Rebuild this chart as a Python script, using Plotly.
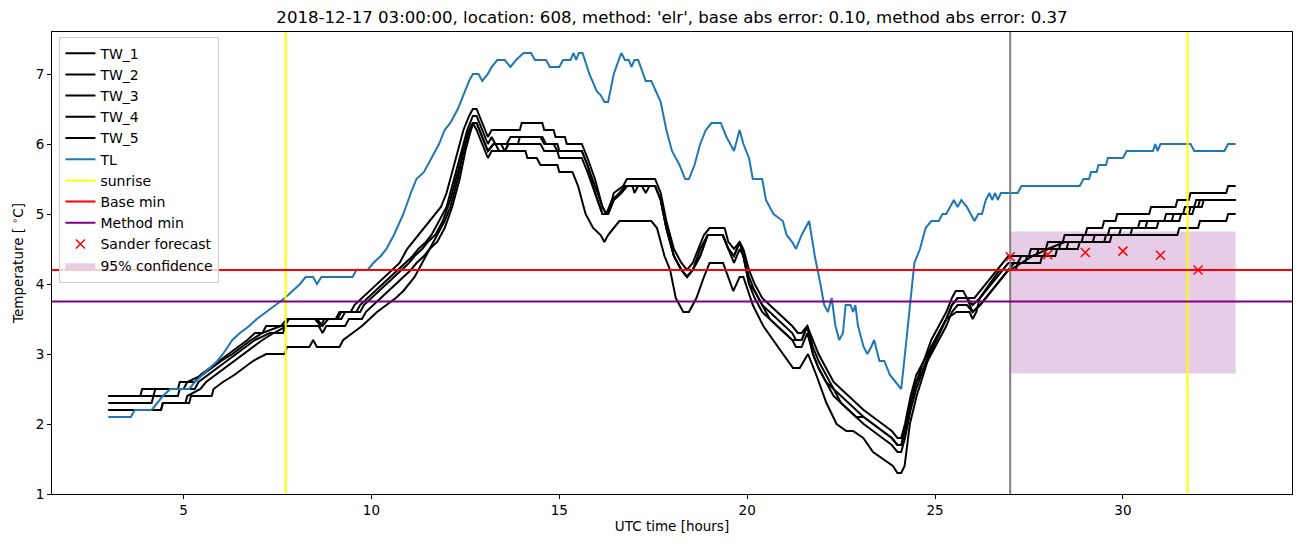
import plotly.graph_objects as go

# --- data ------------------------------------------------------------------
TITLE = ("2018-12-17 03:00:00, location: 608, method: 'elr', "
         "base abs error: 0.10, method abs error: 0.37")

# (UTC hour, temperature) pairs
TL = [(3.0, 2.1), (3.6, 2.1), (3.7, 2.2), (4.15, 2.2), (4.3, 2.3), (4.45, 2.4),
      (4.65, 2.5), (5.15, 2.5), (5.3, 2.6), (5.5, 2.7), (5.7, 2.8), (5.9, 2.9),
      (6.05, 3.0), (6.3, 3.2), (6.5, 3.3), (6.75, 3.4), (6.95, 3.5), (7.2, 3.6),
      (7.45, 3.7), (7.7, 3.8), (7.9, 3.9), (8.1, 4.0), (8.25, 4.1), (8.45, 4.1),
      (8.55, 4.0), (8.67, 4.1), (9.5, 4.1), (9.6, 4.2), (9.9, 4.2), (10.05, 4.3),
      (10.25, 4.4), (10.4, 4.5), (10.6, 4.7), (10.85, 5.0), (11.05, 5.3),
      (11.2, 5.5), (11.4, 5.6), (11.6, 5.8), (11.8, 6.0), (11.95, 6.2),
      (12.1, 6.3), (12.3, 6.5), (12.45, 6.7), (12.6, 6.9), (12.7, 7.0),
      (12.85, 7.0), (12.95, 6.9), (13.1, 7.0), (13.2, 7.1), (13.35, 7.2),
      (13.55, 7.2), (13.7, 7.1), (13.85, 7.2), (14.05, 7.3), (14.25, 7.3),
      (14.35, 7.2), (14.65, 7.2), (14.75, 7.1), (15.0, 7.1), (15.1, 7.2),
      (15.3, 7.2), (15.38, 7.3), (15.45, 7.2), (15.52, 7.3), (15.62, 7.3),
      (15.8, 7.0), (16.0, 6.75), (16.1, 6.7), (16.2, 6.6), (16.3, 6.6),
      (16.45, 7.0), (16.65, 7.3), (16.75, 7.2), (16.85, 7.2), (16.92, 7.1),
      (17.0, 7.2), (17.1, 7.2), (17.3, 6.9), (17.45, 6.9), (17.7, 6.6),
      (17.85, 6.2), (18.0, 5.9), (18.2, 5.7), (18.35, 5.5), (18.45, 5.5),
      (18.6, 5.7), (18.75, 6.0), (18.9, 6.2), (19.05, 6.3), (19.3, 6.3),
      (19.45, 6.1), (19.65, 5.9), (19.8, 6.2), (19.9, 6.0), (20.05, 5.8),
      (20.15, 5.5), (20.4, 5.5), (20.5, 5.2), (20.7, 5.0), (20.95, 4.9),
      (21.05, 4.7), (21.2, 4.6), (21.3, 4.5), (21.45, 4.7), (21.65, 4.9),
      (21.8, 4.4), (21.95, 4.0), (22.05, 3.7), (22.15, 3.6), (22.25, 3.8),
      (22.35, 3.4), (22.45, 3.2), (22.55, 3.3), (22.62, 3.7), (22.75, 3.7),
      (22.82, 3.6), (22.88, 3.7), (22.95, 3.4), (23.1, 3.1), (23.2, 3.0),
      (23.3, 3.1), (23.38, 3.2), (23.52, 2.9), (23.65, 2.9), (23.8, 2.7),
      (23.95, 2.6), (24.1, 2.5), (24.2, 3.0), (24.33, 3.7), (24.45, 4.3),
      (24.6, 4.5), (24.75, 4.8), (24.9, 4.9), (25.1, 4.9), (25.2, 5.0),
      (25.3, 5.0), (25.4, 5.1), (25.5, 5.2), (25.6, 5.1), (25.7, 5.2),
      (25.85, 5.1), (26.05, 4.9), (26.15, 5.0), (26.25, 5.0), (26.35, 5.2),
      (26.45, 5.3), (26.52, 5.2), (26.6, 5.3), (26.67, 5.2), (26.75, 5.3),
      (27.2, 5.3), (27.3, 5.4), (28.85, 5.4), (28.95, 5.5), (29.1, 5.5),
      (29.15, 5.6), (29.3, 5.6), (29.35, 5.7), (29.55, 5.7), (29.6, 5.8),
      (30.0, 5.8), (30.1, 5.9), (30.8, 5.9), (30.86, 6.0), (30.92, 5.9),
      (31.0, 6.0), (31.8, 6.0), (31.9, 5.9), (32.7, 5.9), (32.8, 6.0), (33.0, 6.0)]

TW_1 = [(3.0, 2.4), (3.85, 2.4), (3.9, 2.5), (4.85, 2.5), (4.9, 2.6), (5.3, 2.6),
        (5.45, 2.7), (5.7, 2.8), (5.95, 2.9), (6.2, 3.0), (6.45, 3.1), (6.7, 3.2),
        (6.9, 3.3), (7.1, 3.3), (7.2, 3.4), (7.7, 3.4), (7.75, 3.5), (9.05, 3.5),
        (9.15, 3.6), (9.45, 3.6), (9.55, 3.7), (9.75, 3.8), (9.95, 3.9),
        (10.15, 4.0), (10.35, 4.1), (10.55, 4.2), (10.75, 4.3), (10.95, 4.5),
        (11.1, 4.6), (11.25, 4.7), (11.4, 4.8), (11.55, 4.9), (11.7, 5.0),
        (11.85, 5.1), (12.0, 5.3), (12.15, 5.6), (12.3, 5.9), (12.45, 6.2),
        (12.6, 6.4), (12.7, 6.5), (12.8, 6.5), (12.95, 6.3), (13.1, 6.1),
        (13.2, 6.2), (13.95, 6.2), (14.0, 6.3), (14.55, 6.3), (14.6, 6.2),
        (14.85, 6.2), (14.9, 6.1), (15.15, 6.1), (15.2, 6.0), (15.6, 6.0),
        (15.75, 5.8), (15.95, 5.5), (16.15, 5.1), (16.25, 5.0), (16.35, 5.1),
        (16.45, 5.3), (16.7, 5.4), (16.8, 5.5), (17.55, 5.5), (17.7, 5.3),
        (17.85, 4.9), (18.05, 4.5), (18.25, 4.3), (18.4, 4.2), (18.55, 4.3),
        (18.7, 4.5), (18.85, 4.7), (19.0, 4.8), (19.4, 4.8), (19.5, 4.6),
        (19.65, 4.5), (19.8, 4.6), (19.9, 4.5), (20.05, 4.2), (20.2, 4.0),
        (20.4, 3.8), (20.6, 3.7), (20.8, 3.6), (21.0, 3.5), (21.2, 3.4),
        (21.35, 3.3), (21.45, 3.3), (21.6, 3.4), (21.75, 3.2), (21.9, 3.0),
        (22.1, 2.8), (22.3, 2.6), (22.5, 2.5), (22.7, 2.4), (22.9, 2.3),
        (23.1, 2.2), (23.35, 2.1), (23.6, 2.0), (23.85, 1.9), (24.0, 1.8),
        (24.1, 1.8), (24.2, 2.0), (24.35, 2.4), (24.5, 2.7), (24.7, 2.9),
        (24.9, 3.2), (25.1, 3.4), (25.3, 3.6), (25.45, 3.8), (25.55, 3.9),
        (25.75, 3.9), (25.85, 3.8), (26.05, 3.8), (26.2, 3.9), (26.35, 4.0),
        (26.5, 4.1), (26.65, 4.2), (26.8, 4.3), (26.95, 4.4), (27.5, 4.4),
        (27.55, 4.5), (27.95, 4.5), (28.0, 4.6), (28.4, 4.6), (28.45, 4.7),
        (29.0, 4.7), (29.05, 4.8), (29.45, 4.8), (29.5, 4.9), (29.8, 4.9),
        (29.85, 5.0), (30.7, 5.0), (30.75, 5.1), (31.4, 5.1), (31.45, 5.2),
        (31.75, 5.2), (31.8, 5.3), (32.75, 5.3), (32.8, 5.4), (33.0, 5.4)]

TW_2 = [(3.0, 2.4), (4.2, 2.4), (4.25, 2.5), (5.0, 2.5), (5.1, 2.6), (5.5, 2.7),
        (5.75, 2.8), (6.0, 2.9), (6.3, 3.0), (6.55, 3.1), (6.8, 3.2), (7.1, 3.3),
        (7.6, 3.4), (7.75, 3.5), (8.55, 3.5), (8.7, 3.4), (8.85, 3.5), (9.1, 3.5),
        (9.2, 3.6), (9.6, 3.6), (9.7, 3.7), (9.9, 3.8), (10.1, 3.9), (10.3, 4.0),
        (10.5, 4.1), (10.7, 4.2), (10.9, 4.3), (11.1, 4.4), (11.25, 4.5),
        (11.45, 4.6), (11.6, 4.7), (11.8, 4.9), (12.0, 5.1), (12.2, 5.5),
        (12.4, 5.9), (12.55, 6.2), (12.7, 6.4), (12.8, 6.4), (12.95, 6.2),
        (13.1, 6.0), (13.2, 6.1), (13.3, 6.0), (13.45, 6.0), (13.55, 5.9),
        (13.65, 6.0), (13.9, 6.0), (13.95, 6.1), (14.55, 6.1), (14.65, 6.0),
        (14.85, 6.0), (14.95, 5.9), (15.6, 5.9), (15.75, 5.7), (15.95, 5.4),
        (16.15, 5.1), (16.25, 5.0), (16.4, 5.2), (16.6, 5.3), (16.75, 5.4),
        (16.95, 5.4), (17.0, 5.3), (17.1, 5.4), (17.55, 5.4), (17.7, 5.2),
        (17.85, 4.8), (18.05, 4.4), (18.25, 4.2), (18.4, 4.1), (18.55, 4.2),
        (18.75, 4.5), (18.95, 4.7), (19.35, 4.7), (19.5, 4.5), (19.65, 4.4),
        (19.8, 4.6), (19.9, 4.4), (20.05, 4.1), (20.2, 3.9), (20.4, 3.7),
        (20.6, 3.6), (20.8, 3.5), (21.0, 3.4), (21.2, 3.3), (21.3, 3.2),
        (21.45, 3.2), (21.6, 3.4), (21.75, 3.1), (21.9, 2.9), (22.1, 2.7),
        (22.3, 2.5), (22.5, 2.4), (22.7, 2.3), (22.9, 2.2), (23.1, 2.1),
        (23.35, 2.0), (23.6, 1.9), (23.85, 1.8), (24.0, 1.7), (24.1, 1.7),
        (24.2, 1.9), (24.35, 2.3), (24.5, 2.6), (24.7, 2.9), (24.9, 3.1),
        (25.1, 3.3), (25.3, 3.5), (25.45, 3.7), (25.6, 3.8), (25.85, 3.8),
        (26.0, 3.7), (26.2, 3.8), (26.35, 3.9), (26.5, 4.0), (26.65, 4.1),
        (26.8, 4.2), (26.95, 4.3), (27.2, 4.3), (27.3, 4.4), (27.7, 4.4),
        (27.75, 4.5), (28.3, 4.5), (28.35, 4.6), (28.9, 4.6), (28.95, 4.7),
        (29.6, 4.7), (29.65, 4.8), (30.4, 4.8), (30.45, 4.9), (31.1, 4.9),
        (31.15, 5.0), (31.6, 5.0), (31.65, 5.1), (31.9, 5.1), (31.95, 5.2),
        (33.0, 5.2)]

TW_3 = [(3.0, 2.3), (4.15, 2.3), (4.2, 2.4), (4.85, 2.4), (4.9, 2.5), (5.3, 2.5),
        (5.4, 2.6), (5.65, 2.7), (5.9, 2.8), (6.15, 2.9), (6.4, 3.0), (6.65, 3.1),
        (6.9, 3.2), (7.3, 3.3), (7.65, 3.3), (7.7, 3.4), (7.8, 3.5), (8.5, 3.5),
        (8.65, 3.4), (8.75, 3.5), (9.2, 3.5), (9.3, 3.6), (9.7, 3.6), (9.8, 3.7),
        (10.0, 3.8), (10.2, 3.9), (10.4, 4.0), (10.6, 4.1), (10.8, 4.2),
        (11.0, 4.3), (11.15, 4.4), (11.35, 4.5), (11.5, 4.6), (11.7, 4.7),
        (11.9, 4.9), (12.1, 5.2), (12.3, 5.6), (12.45, 5.9), (12.6, 6.2),
        (12.7, 6.3), (12.8, 6.3), (12.95, 6.1), (13.1, 5.9), (13.25, 6.0),
        (13.3, 6.0), (13.4, 5.9), (13.55, 5.9), (13.65, 6.0), (14.5, 6.0),
        (14.6, 5.9), (14.95, 5.9), (15.0, 5.8), (15.6, 5.8), (15.75, 5.6),
        (15.95, 5.3), (16.15, 5.0), (16.3, 5.0), (16.45, 5.2), (16.65, 5.3),
        (16.8, 5.4), (17.2, 5.4), (17.3, 5.3), (17.4, 5.4), (17.55, 5.4),
        (17.7, 5.2), (17.85, 4.8), (18.05, 4.4), (18.25, 4.2), (18.4, 4.1),
        (18.55, 4.2), (18.75, 4.4), (18.95, 4.7), (19.35, 4.7), (19.5, 4.5),
        (19.65, 4.3), (19.8, 4.5), (19.9, 4.4), (20.05, 4.0), (20.2, 3.8),
        (20.4, 3.6), (20.6, 3.5), (20.8, 3.4), (21.0, 3.3), (21.2, 3.2),
        (21.3, 3.1), (21.45, 3.1), (21.6, 3.3), (21.75, 3.0), (21.9, 2.8),
        (22.1, 2.6), (22.3, 2.4), (22.5, 2.3), (22.7, 2.2), (22.9, 2.1),
        (23.1, 2.0), (23.35, 1.9), (23.6, 1.8), (23.85, 1.7), (24.0, 1.6),
        (24.1, 1.6), (24.2, 1.8), (24.35, 2.2), (24.5, 2.5), (24.7, 2.8),
        (24.9, 3.0), (25.1, 3.2), (25.3, 3.4), (25.45, 3.6), (25.6, 3.7),
        (25.85, 3.7), (26.0, 3.6), (26.2, 3.7), (26.35, 3.8), (26.5, 3.9),
        (26.65, 4.0), (26.8, 4.1), (26.95, 4.2), (27.15, 4.2), (27.2, 4.3),
        (27.8, 4.3), (27.85, 4.4), (28.2, 4.4), (28.25, 4.5), (28.8, 4.5),
        (28.85, 4.6), (29.5, 4.6), (29.55, 4.7), (30.2, 4.7), (30.25, 4.8),
        (30.9, 4.8), (30.95, 4.9), (31.5, 4.9), (31.55, 5.0), (31.75, 5.0),
        (31.8, 5.1), (32.0, 5.1), (32.05, 5.2), (33.0, 5.2)]

TW_4 = [(3.0, 2.2), (4.4, 2.2), (4.45, 2.3), (5.05, 2.3), (5.1, 2.4), (5.45, 2.5),
        (5.6, 2.6), (5.85, 2.7), (6.1, 2.8), (6.35, 2.9), (6.6, 3.0), (6.85, 3.1),
        (7.1, 3.2), (7.4, 3.3), (7.75, 3.4), (8.6, 3.4), (8.7, 3.3), (8.8, 3.4),
        (9.3, 3.4), (9.4, 3.5), (9.75, 3.5), (9.85, 3.6), (10.05, 3.7),
        (10.25, 3.8), (10.45, 3.9), (10.65, 4.0), (10.85, 4.1), (11.05, 4.2),
        (11.2, 4.3), (11.4, 4.4), (11.55, 4.5), (11.75, 4.6), (11.95, 4.8),
        (12.15, 5.1), (12.35, 5.5), (12.5, 5.9), (12.65, 6.2), (12.72, 6.3),
        (12.8, 6.3), (12.95, 6.1), (13.1, 5.9), (13.25, 6.0), (13.6, 6.0),
        (13.7, 6.1), (14.5, 6.1), (14.6, 6.0), (14.95, 6.0), (15.0, 5.9),
        (15.6, 5.9), (15.75, 5.7), (15.95, 5.3), (16.15, 5.0), (16.3, 5.0),
        (16.45, 5.2), (16.65, 5.3), (16.8, 5.4), (17.55, 5.4), (17.7, 5.2),
        (17.85, 4.8), (18.05, 4.4), (18.25, 4.2), (18.4, 4.1), (18.55, 4.2),
        (18.75, 4.4), (18.95, 4.7), (19.35, 4.7), (19.5, 4.5), (19.65, 4.4),
        (19.8, 4.6), (19.9, 4.4), (20.05, 4.0), (20.2, 3.9), (20.4, 3.7),
        (20.6, 3.5), (20.8, 3.4), (21.0, 3.3), (21.2, 3.2), (21.45, 3.2),
        (21.6, 3.4), (21.75, 3.0), (21.9, 2.8), (22.1, 2.6), (22.3, 2.5),
        (22.5, 2.3), (22.7, 2.2), (22.9, 2.1), (23.1, 2.1), (23.35, 2.0),
        (23.6, 1.9), (23.85, 1.8), (24.0, 1.7), (24.1, 1.7), (24.2, 1.9),
        (24.35, 2.3), (24.5, 2.6), (24.7, 2.8), (24.9, 3.1), (25.1, 3.3),
        (25.3, 3.5), (25.45, 3.7), (25.6, 3.8), (25.85, 3.8), (26.0, 3.6),
        (26.2, 3.7), (26.35, 3.8), (26.5, 3.9), (26.65, 4.0), (26.8, 4.1),
        (26.95, 4.2), (27.1, 4.3), (27.4, 4.3), (27.45, 4.4), (27.9, 4.4),
        (27.95, 4.5), (28.5, 4.5), (28.55, 4.6), (29.2, 4.6), (29.25, 4.7),
        (29.9, 4.7), (29.95, 4.8), (30.6, 4.8), (30.65, 4.9), (31.3, 4.9),
        (31.35, 5.0), (31.85, 5.0), (31.9, 5.1), (32.1, 5.1), (32.15, 5.2),
        (33.0, 5.2)]

TW_5 = [(3.0, 2.2), (4.4, 2.2), (4.45, 2.3), (5.15, 2.3), (5.2, 2.4), (5.75, 2.4),
        (5.8, 2.5), (6.05, 2.6), (6.35, 2.7), (6.6, 2.8), (6.85, 2.9), (7.2, 3.0),
        (7.7, 3.0), (7.75, 3.1), (8.35, 3.1), (8.45, 3.2), (8.55, 3.1),
        (9.15, 3.1), (9.25, 3.2), (9.5, 3.3), (9.75, 3.4), (9.95, 3.5),
        (10.15, 3.6), (10.4, 3.7), (10.65, 3.8), (10.85, 3.9), (11.0, 4.0),
        (11.15, 4.1), (11.35, 4.3), (11.55, 4.5), (11.75, 4.7), (11.95, 4.9),
        (12.1, 5.1), (12.3, 5.5), (12.45, 5.9), (12.6, 6.2), (12.7, 6.3),
        (12.8, 6.2), (12.95, 6.0), (13.1, 5.8), (13.2, 5.9), (14.1, 5.9),
        (14.15, 5.8), (14.4, 5.8), (14.5, 5.7), (14.95, 5.7), (15.0, 5.6),
        (15.35, 5.6), (15.5, 5.4), (15.7, 5.0), (15.9, 4.8), (16.1, 4.7),
        (16.2, 4.6), (16.3, 4.7), (16.45, 4.8), (16.6, 4.9), (17.45, 4.9),
        (17.6, 4.8), (17.8, 4.4), (17.95, 4.2), (18.1, 3.8), (18.3, 3.6),
        (18.45, 3.6), (18.65, 3.8), (18.85, 4.1), (19.0, 4.3), (19.36, 4.3),
        (19.5, 4.1), (19.63, 3.9), (19.8, 4.1), (19.9, 4.1), (20.15, 3.7),
        (20.43, 3.4), (20.69, 3.2), (20.96, 3.0), (21.22, 2.8), (21.4, 2.8),
        (21.62, 3.0), (21.84, 2.7), (22.11, 2.3), (22.38, 2.0), (22.64, 1.9),
        (22.82, 1.9), (23.09, 1.8), (23.35, 1.6), (23.62, 1.5), (23.88, 1.4),
        (24.0, 1.3), (24.1, 1.3), (24.19, 1.4), (24.33, 2.0), (24.51, 2.4),
        (24.68, 2.7), (24.86, 3.0), (25.04, 3.2), (25.3, 3.5), (25.57, 3.6),
        (25.92, 3.6), (26.0, 3.5), (26.1, 3.6), (26.19, 3.8), (26.46, 4.0),
        (26.72, 4.2), (27.0, 4.2), (27.3, 4.3), (27.6, 4.4), (28.0, 4.5),
        (28.45, 4.6), (29.65, 4.6), (29.7, 4.7), (31.45, 4.7), (31.5, 4.8),
        (32.0, 4.8), (32.05, 4.9), (32.75, 4.9), (32.8, 5.0), (33.0, 5.0)]

TW_SERIES = {"TW_1": TW_1, "TW_2": TW_2, "TW_3": TW_3, "TW_4": TW_4, "TW_5": TW_5}

SUNRISE = [7.72, 31.72]
FORECAST_START = 27.0
BASE_MIN = 4.2
METHOD_MIN = 3.75
SANDER_HOURS = [27, 28, 29, 30, 31, 32]
SANDER_TEMPS = [4.39, 4.42, 4.45, 4.47, 4.41, 4.20]
CONF_HOURS = [27.0, 33.0]
CONF_LOW, CONF_HIGH = 2.72, 4.75

XLIM = [1.5, 34.5]
YLIM = [1.0, 7.6]


def split(points):
    return [p[0] for p in points], [p[1] for p in points]


fig = go.Figure()

# confidence band first so the lines sit on top of it
fig.add_trace(go.Scatter(
    x=[CONF_HOURS[0], CONF_HOURS[1], CONF_HOURS[1], CONF_HOURS[0], CONF_HOURS[0]],
    y=[CONF_LOW, CONF_LOW, CONF_HIGH, CONF_HIGH, CONF_LOW],
    fill="toself", fillcolor="rgba(128,0,128,0.2)", line=dict(width=0),
    mode="lines", name="95% confidence", legendrank=1100, hoverinfo="skip"))

for rank, (name, pts) in enumerate(TW_SERIES.items()):
    xs, ys = split(pts)
    fig.add_trace(go.Scatter(x=xs, y=ys, mode="lines", name=name,
                             line=dict(color="black", width=2),
                             legendrank=1000 + rank))

xs, ys = split(TL)
fig.add_trace(go.Scatter(x=xs, y=ys, mode="lines", name="TL",
                         line=dict(color="#1f77b4", width=2), legendrank=1010))

sx, sy = [], []
for h in SUNRISE:
    sx += [h, h, None]
    sy += [YLIM[0], YLIM[1], None]
fig.add_trace(go.Scatter(x=sx, y=sy, mode="lines", name="sunrise",
                         line=dict(color="yellow", width=2), legendrank=1020))

fig.add_trace(go.Scatter(x=[FORECAST_START, FORECAST_START], y=YLIM, mode="lines",
                         line=dict(color="grey", width=2), showlegend=False))

fig.add_trace(go.Scatter(x=XLIM, y=[BASE_MIN, BASE_MIN], mode="lines",
                         name="Base min", line=dict(color="red", width=2),
                         legendrank=1030))
fig.add_trace(go.Scatter(x=XLIM, y=[METHOD_MIN, METHOD_MIN], mode="lines",
                         name="Method min", line=dict(color="purple", width=2),
                         legendrank=1040))

fig.add_trace(go.Scatter(x=SANDER_HOURS, y=SANDER_TEMPS, mode="markers",
                         name="Sander forecast", legendrank=1050,
                         marker=dict(symbol="x-thin-open", size=9, color="red",
                                     line=dict(color="red", width=1.5))))

axis = dict(showline=True, linecolor="black", linewidth=1, mirror=True,
            ticks="outside", ticklen=4, tickcolor="black", showgrid=False,
            zeroline=False, tickfont=dict(size=13.5), automargin=False)

# the page has an 8px body margin, so the figure is sized to fit inside it
fig.update_layout(
    width=1286, height=531,
    margin=dict(l=44, r=2, t=24, b=45),
    plot_bgcolor="white", paper_bgcolor="white",
    font=dict(family="DejaVu Sans", size=13.5, color="black"),
    title=dict(text=TITLE, x=0.5, xref="paper", y=0.983, yanchor="middle",
               font=dict(size=16.6)),
    legend=dict(x=0.006, y=0.99, xanchor="left", yanchor="top",
                bgcolor="rgba(255,255,255,0.8)", bordercolor="#cccccc",
                borderwidth=1, font=dict(size=14), tracegroupgap=0),
    xaxis=dict(axis, range=XLIM, tickvals=[5, 10, 15, 20, 25, 30],
               title=dict(text="UTC time [hours]", standoff=4,
                          font=dict(size=13.5))),
    yaxis=dict(axis, range=YLIM, tickvals=[1, 2, 3, 4, 5, 6, 7],
               title=dict(text="Temperature [ <sup>∘</sup>C]", standoff=8,
                          font=dict(size=13.5))),
)

fig.write_html("out.html")
